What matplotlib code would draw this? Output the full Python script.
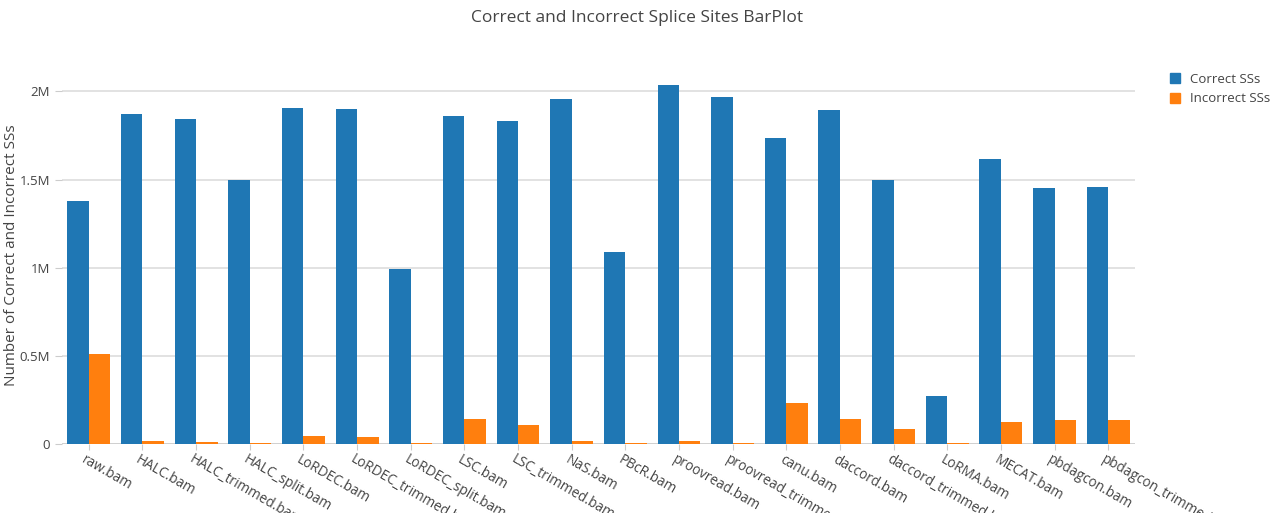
import matplotlib.pyplot as plt
import matplotlib.transforms as mtransforms
import numpy as np
from matplotlib.patches import Patch

# data
samples = ['raw.bam', 'HALC.bam', 'HALC_trimmed.bam', 'HALC_split.bam', 'LoRDEC.bam',
           'LoRDEC_trimmed.bam', 'LoRDEC_split.bam', 'LSC.bam', 'LSC_trimmed.bam', 'NaS.bam',
           'PBcR.bam', 'proovread.bam', 'proovread_trimmed.bam', 'canu.bam', 'daccord.bam',
           'daccord_trimmed.bam', 'LoRMA.bam', 'MECAT.bam', 'pbdagcon.bam', 'pbdagcon_trimmed.bam']
correct = [1.381e6, 1.873e6, 1.845e6, 1.500e6, 1.907e6, 1.901e6, 0.990e6, 1.862e6, 1.834e6, 1.958e6,
           1.087e6, 2.037e6, 1.969e6, 1.737e6, 1.896e6, 1.500e6, 0.272e6, 1.619e6, 1.454e6, 1.460e6]
incorrect = [0.509e6, 0.019e6, 0.013e6, 0.008e6, 0.047e6, 0.042e6, 0.008e6, 0.143e6, 0.109e6, 0.019e6,
             0.008e6, 0.019e6, 0.004e6, 0.234e6, 0.143e6, 0.087e6, 0.008e6, 0.126e6, 0.138e6, 0.138e6]
series_names = ['Correct SSs', 'Incorrect SSs']
colors = ['#1f77b4', '#ff7f0e']
yticks = [0, 0.5e6, 1e6, 1.5e6, 2e6]
ytick_labels = ['0', '0.5M', '1M', '1.5M', '2M']

plt.rcParams['font.family'] = ['Open Sans', 'DejaVu Sans']
text_color = '#444444'

fig = plt.figure(figsize=(12.74, 5.13), dpi=100)
ax = fig.add_axes([62 / 1274, 69 / 513, (1135 - 62) / 1274, (444 - 66) / 513])

x = np.arange(len(samples))
w = 0.4
ax.bar(x - w / 2, correct, width=w, color=colors[0], zorder=2)
ax.bar(x + w / 2, incorrect, width=w, color=colors[1], zorder=2)

ax.set_xlim(-0.5, len(samples) - 0.5)
ax.set_ylim(0, 2.144e6)
ax.set_yticks(yticks)
ax.set_yticklabels(ytick_labels)
ax.yaxis.grid(True, color='#dddddd', linewidth=1.2, zorder=0)
ax.axhline(0, color='#888888', linewidth=2, zorder=1.5)
for s in ax.spines.values():
    s.set_visible(False)

# rotated x labels, start of the text at the tick
ax.set_xticks(x)
ax.set_xticklabels([])
ax.tick_params(axis='x', length=4, color='#cccccc')
trans = ax.get_xaxis_transform() + mtransforms.ScaledTranslation(-2 / 100, -8 / 100, fig.dpi_scale_trans)
for i, name in enumerate(samples):
    ax.text(i, 0, name, transform=trans, rotation=-30, ha='left', va='top',
            rotation_mode='anchor', fontsize=9.8, color=text_color, clip_on=False)
ax.tick_params(axis='y', length=5, color='#cccccc', labelsize=9.5, labelcolor=text_color)

ax.set_ylabel('Number of Correct and Incorrect SSs', fontsize=11, color=text_color)
ax.yaxis.set_label_coords(-(62 - 19) / 1073, 0.5)
fig.text(0.5, 1 - 18 / 513, 'Correct and Incorrect Splice Sites BarPlot', ha='center', va='center',
         fontsize=12.5, color=text_color)

handles = [Patch(color=c) for c in colors]
fig.legend(handles, series_names, loc='upper left', bbox_to_anchor=(1158 / 1274, 1 - 61 / 513),
           frameon=False, fontsize=9.5, handlelength=0.8, handleheight=0.8, handletextpad=0.7,
           labelcolor=text_color, labelspacing=0.5)

plt.savefig('out.png', dpi=100)
